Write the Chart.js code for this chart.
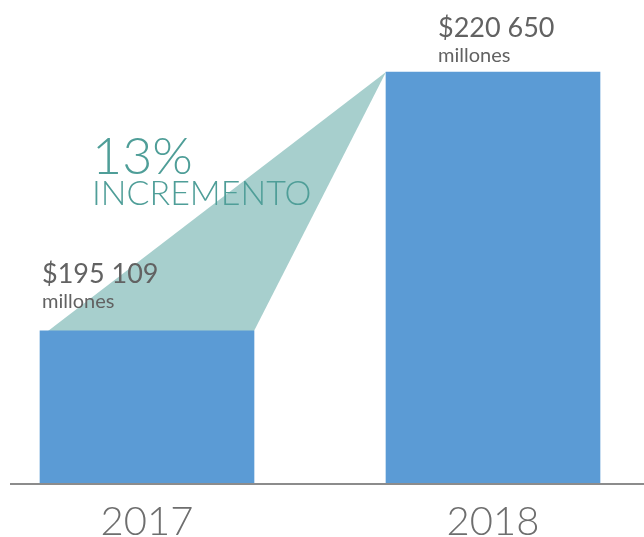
<!DOCTYPE html>
<html>
<head>
<meta charset="utf-8">
<script src="https://cdn.jsdelivr.net/npm/chart.js@4.4.1/dist/chart.umd.min.js"></script>
<style>
  html, body { margin: 0; padding: 0; background: #fff; }
  #wrap { width: 644px; height: 537px; }
</style>
</head>
<body>
<div id="wrap"><canvas id="growthChart"></canvas></div>
<script>
// years and revenue in millions
const years = ['2017', '2018'];
const revenue = [195109, 220650];
const unitLabel = 'millones';
const growthLabel = 'INCREMENTO';

const Y_FLOOR = 180000;
const Y_CEIL = 225000;

const BAR_BLUE = '#5b9bd5';
const WEDGE_TEAL = '#a7cfcd';
const TEAL_TEXT = '#4f9e98';
const GREY_TEXT = '#626262';
const AXIS_GREY = '#8c8c8c';

function withSpaces(n) {
    return String(n).replace(/\B(?=(\d{3})+(?!\d))/g, ' ');
}

// teal wedge joining the top of the first bar to the corner of the second,
// plus the baseline running the full width
const wedgePlugin = {
    id: 'wedge',
    beforeDatasetsDraw(chart) {
        const bars = chart.getDatasetMeta(0).data;
        const a = bars[0], b = bars[1];
        const ctx = chart.ctx;
        ctx.save();
        ctx.fillStyle = WEDGE_TEAL;
        ctx.beginPath();
        ctx.moveTo(a.x - a.width / 2 + 8, a.y);
        ctx.lineTo(a.x + a.width / 2, a.y);
        ctx.lineTo(b.x - b.width / 2, b.y);
        ctx.closePath();
        ctx.fill();
        ctx.restore();
    },
    afterDatasetsDraw(chart) {
        const ctx = chart.ctx;
        ctx.save();
        ctx.strokeStyle = AXIS_GREY;
        ctx.lineWidth = 2;
        ctx.beginPath();
        ctx.moveTo(10, chart.chartArea.bottom);
        ctx.lineTo(chart.width, chart.chartArea.bottom);
        ctx.stroke();
        ctx.restore();
    }
};

// value captions above each bar plus the growth note
const captionPlugin = {
    id: 'captions',
    afterDatasetsDraw(chart) {
        const bars = chart.getDatasetMeta(0).data;
        const ctx = chart.ctx;
        const offsets = [[2, 48, 23], [52, 35, 10]];
        ctx.save();
        ctx.textAlign = 'left';
        ctx.textBaseline = 'alphabetic';
        bars.forEach((bar, i) => {
            const left = bar.x - bar.width / 2 + offsets[i][0];
            ctx.fillStyle = GREY_TEXT;
            ctx.font = '400 27px Lato';
            ctx.fillText('$' + withSpaces(revenue[i]), left, bar.y - offsets[i][1]);
            ctx.font = '400 20px Lato';
            ctx.fillText(unitLabel, left, bar.y - offsets[i][2]);
        });

        const pct = Math.round((revenue[1] / revenue[0] - 1) * 100);
        const a = bars[0];
        const x = a.x - a.width / 2 + 52;
        ctx.fillStyle = TEAL_TEXT;
        ctx.font = '300 52px Lato';
        ctx.fillText(pct + '%', x, a.y - 157);
        ctx.font = '300 34px Lato';
        ctx.fillText(growthLabel, x, a.y - 126);
        ctx.restore();
    }
};

new Chart(document.getElementById('growthChart'), {
    type: 'bar',
    data: {
        labels: years,
        datasets: [{
            data: revenue,
            base: Y_FLOOR,
            backgroundColor: BAR_BLUE,
            barThickness: 214,
            clip: false
        }]
    },
    options: {
        responsive: true,
        maintainAspectRatio: false,
        animation: false,
        layout: { padding: { top: 28, left: 147, right: 151, bottom: 0 } },
        plugins: {
            legend: { display: false },
            tooltip: { enabled: false }
        },
        scales: {
            x: {
                offset: false,
                afterFit: axis => { axis.height = 53; },
                grid: { display: false, drawTicks: false },
                border: { display: false },
                ticks: {
                    padding: 18,
                    color: '#6e6e6e',
                    font: { family: 'Lato', size: 40, weight: '300', lineHeight: 1 }
                }
            },
            y: {
                display: false,
                min: Y_FLOOR,
                max: Y_CEIL
            }
        }
    },
    plugins: [wedgePlugin, captionPlugin]
});
</script>
</body>
</html>
